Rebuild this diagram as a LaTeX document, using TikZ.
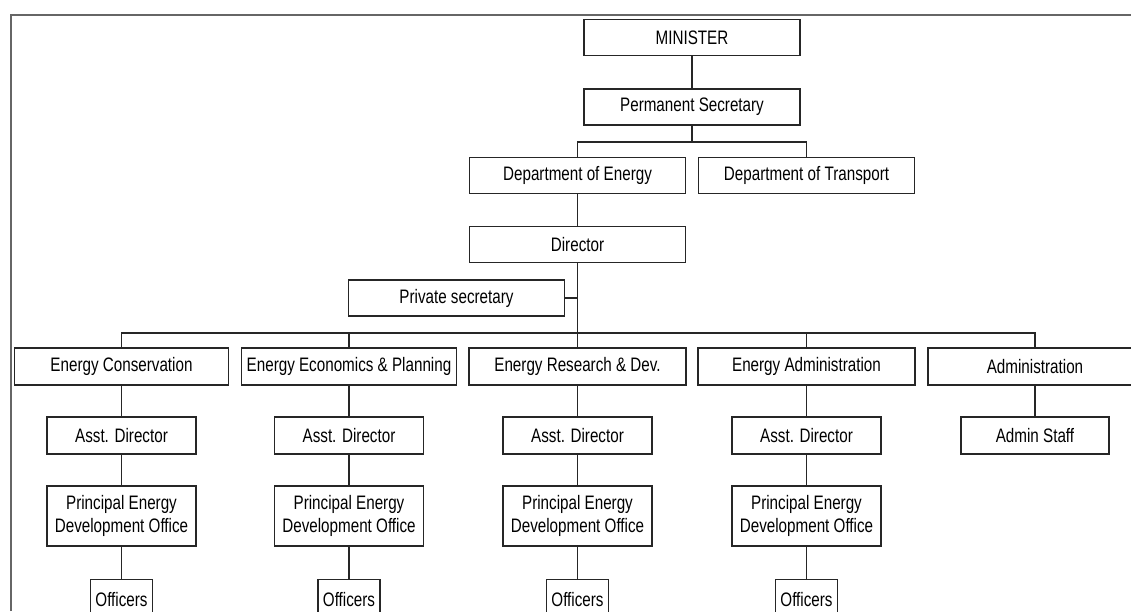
\documentclass[tikz,border=0pt]{standalone}
\usepackage{fontspec}
\setmainfont{Liberation Sans}[FakeStretch=0.78]
\begin{document}
\begin{tikzpicture}[x=1pt,y=-1pt,
  box/.style={draw=black!85,line width=1.3pt,inner sep=0pt,align=center,
    font=\fontsize{19.5}{22.7}\selectfont},
  big/.style={box,minimum width=216pt,minimum height=36pt},
  small/.style={box,minimum width=149pt,minimum height=37pt},
  pedo/.style={box,minimum width=149pt,minimum height=60pt},
  off/.style={box,minimum width=62pt,minimum height=40pt},
  conn/.style={draw=black!85,line width=1.2pt}]
\useasboundingbox (0,0) rectangle (1131,611);
\clip (0,0) rectangle (1131,611);
% frame
\draw[black!60,line width=1.5pt] (11,611) -- (11,15) -- (1131,15);
% top
\node[big] (min) at (692,37.5) {MINISTER};
\node[big] (ps) at (692,107) {Permanent Secretary};
\node[big] (doe) at (577.5,175.5) {Department of Energy};
\node[big] (dot) at (806.5,175.5) {Department of Transport};
\node[big] (dir) at (577.5,244.5) {Director};
\node[big] (pvt) at (456.5,298) {Private secretary};
% level 3
\node[big,minimum width=214pt,minimum height=37pt] (ec) at (121.5,366.5) {Energy Conservation};
\node[big,minimum width=215pt,minimum height=37pt] (eep) at (349,366.5) {Energy Economics \& Planning};
\node[big,minimum width=217pt,minimum height=37pt] (erd) at (577.5,366.5) {Energy Research \& Dev.};
\node[big,minimum width=217pt,minimum height=37pt] (ea) at (806.5,366.5) {Energy Administration};
\node[big,minimum width=214pt,minimum height=37pt] (adm) at (1035,366.5) {Administration};
% asst
\node[small] (a1) at (121.5,435.5) {Asst. Director};
\node[small] (a2) at (349,435.5) {Asst. Director};
\node[small] (a3) at (577.5,435.5) {Asst. Director};
\node[small] (a4) at (806.5,435.5) {Asst. Director};
\node[small,minimum width=148pt] (as) at (1035,435.5) {Admin Staff};
% pedo
\node[pedo] (p1) at (121.5,516) {Principal Energy\\Development Office};
\node[pedo] (p2) at (349,516) {Principal Energy\\Development Office};
\node[pedo] (p3) at (577.5,516) {Principal Energy\\Development Office};
\node[pedo] (p4) at (806.5,516) {Principal Energy\\Development Office};
% officers
\node[off,anchor=north] (o1) at (121.5,579) {Officers};
\node[off,anchor=north] (o2) at (349,579) {Officers};
\node[off,anchor=north] (o3) at (577.5,579) {Officers};
\node[off,anchor=north] (o4) at (806.5,579) {Officers};
% connectors
\coordinate (b1) at (692,142);
\coordinate (b2) at (577.5,333);
\draw[conn] (min) -- (ps);
\draw[conn] (ps) -- (b1);
\draw[conn] (b1) -| (doe);
\draw[conn] (b1) -| (dot);
\draw[conn] (doe) -- (dir);
\draw[conn] (dir) -- (erd);
\draw[conn] (pvt.east) -- (pvt.east -| dir);
\draw[conn] (b2) -| (ec);
\draw[conn] (b2) -| (eep);
\draw[conn] (b2) -| (ea);
\draw[conn] (b2) -| (adm);
\foreach \t/\a/\p/\o in {ec/a1/p1/o1,eep/a2/p2/o2,erd/a3/p3/o3,ea/a4/p4/o4}{
  \draw[conn] (\t) -- (\a);
  \draw[conn] (\a) -- (\p);
  \draw[conn] (\p) -- (\o);
}
\draw[conn] (adm) -- (as);
\end{tikzpicture}
\end{document}
